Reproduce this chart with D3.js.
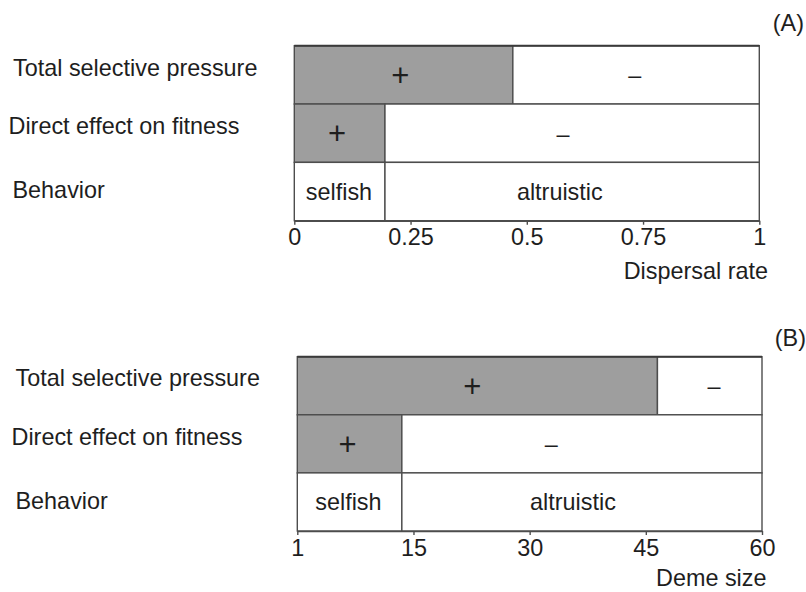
<!DOCTYPE html>
<html><head><meta charset="utf-8">
<script src="https://cdn.jsdelivr.net/npm/d3@7"></script>
<style>
body{margin:0;background:#fff}
svg text{font-family:"Liberation Sans",Arial,Helvetica,sans-serif;fill:#1e1e1e}
</style>
</head><body><svg id="chart" width="806" height="592"></svg>
<script>
// ---- data ----
const rows = ["Total selective pressure", "Direct effect on fitness", "Behavior"];
const splitsA = [0.47, 0.195, 0.195];      // boundary between left and right segment, panel A (dispersal rate)
const splitsB = [46.5, 13.5, 13.5];        // panel B (deme size)
const cellLabels = [["+", "–"], ["+", "–"], ["selfish", "altruistic"]];
const labelAtA = [[0.228, 0.732], [0.092, 0.578], [0.096, 0.571]];
const labelAtB = [[22.6, 53.8], [6.5, 32.8], [6.6, 35.6]];
const leftIsPositive = [true, true, false];
const domainA = [0, 1], domainB = [0, 60];
const ticksA = [0, 0.25, 0.5, 0.75, 1];
const tickLabelsA = ["0", "0.25", "0.5", "0.75", "1"];
const ticksB = [0, 15, 30, 45, 60];
const tickLabelsB = ["1", "15", "30", "45", "60"];
const axisTitles = ["Dispersal rate", "Deme size"];
const panelTags = ["(A)", "(B)"];

// ---- drawing ----
const svg = d3.select("#chart");
const GRAY = "#9e9e9e", LINE = "#4d4d4d", FS = 23.4, PLUS_FS = 31;

function panel(cfg) {
  const x = d3.scaleLinear().domain(cfg.domain).range([cfg.x0, cfg.x1]);
  const y = d3.scaleBand().domain(rows).range([cfg.top, cfg.bottom]).padding(0);
  const g = svg.append("g");

  rows.forEach((r, i) => {
    const segs = [
      {a: cfg.domain[0], b: cfg.splits[i], fill: leftIsPositive[i] ? GRAY : "#fff", label: cellLabels[i][0], at: cfg.labelAt[i][0]},
      {a: cfg.splits[i], b: cfg.domain[1], fill: "#fff", label: cellLabels[i][1], at: cfg.labelAt[i][1]}
    ];
    g.selectAll(null).data(segs).enter().append("rect")
      .attr("x", d => x(d.a)).attr("width", d => x(d.b) - x(d.a))
      .attr("y", y(r)).attr("height", y.bandwidth())
      .attr("fill", d => d.fill).attr("stroke", LINE).attr("stroke-width", 1.4);
    g.selectAll(null).data(segs).enter().append("text")
      .each(function (d) {
        const fs = d.label === "+" ? PLUS_FS : FS;
        d3.select(this).attr("font-size", fs)
          .attr("y", y(r) + y.bandwidth() / 2 + 0.355 * fs);
      })
      .attr("x", d => x(d.at))
      .attr("text-anchor", "middle").text(d => d.label);
    g.append("text").attr("x", cfg.labelX[i]).attr("y", y(r) + cfg.labelDy[i])
      .attr("font-size", FS).text(r);
  });
  // top border darker
  g.append("line").attr("x1", cfg.x0).attr("x2", cfg.x1).attr("y1", cfg.top).attr("y2", cfg.top)
    .attr("stroke", "#3a3a3a").attr("stroke-width", 2);

  const axis = d3.axisBottom(x).tickValues(cfg.ticks)
    .tickFormat((d, i) => cfg.tickLabels[i]).tickSize(4).tickSizeOuter(0).tickPadding(4);
  const ag = g.append("g").attr("transform", `translate(0,${cfg.bottom})`).call(axis);
  ag.select(".domain").attr("stroke", LINE).attr("stroke-width", 1.6);
  ag.selectAll(".tick line").attr("stroke", LINE).attr("stroke-width", 1.4);
  ag.selectAll(".tick text").attr("font-size", FS).attr("fill", "#1e1e1e")
    .attr("font-family", "'Liberation Sans',Arial,sans-serif");

  g.append("text").attr("x", cfg.titleX).attr("y", cfg.titleY).attr("text-anchor", "end")
    .attr("font-size", FS).text(cfg.title);
  g.append("text").attr("x", cfg.tagX).attr("y", cfg.tagY).attr("text-anchor", "end")
    .attr("font-size", FS).text(cfg.tag);
}

panel({domain: domainA, splits: splitsA, labelAt: labelAtA, ticks: ticksA, tickLabels: tickLabelsA,
  title: axisTitles[0], tag: panelTags[0],
  x0: 294.3, x1: 759.3, top: 45.7, bottom: 220.7,
  labelX: [13, 8.5, 12.5], labelDy: [30.3, 30.3, 36],
  titleX: 768, titleY: 279, tagX: 804, tagY: 30.5});

panel({domain: domainB, splits: splitsB, labelAt: labelAtB, ticks: ticksB, tickLabels: tickLabelsB,
  title: axisTitles[1], tag: panelTags[1],
  x0: 297.3, x1: 762, top: 356.7, bottom: 531,
  labelX: [15.5, 11.5, 15.5], labelDy: [29.3, 29.7, 36],
  titleX: 766.5, titleY: 586, tagX: 806, tagY: 345.5});
</script>
</body></html>
